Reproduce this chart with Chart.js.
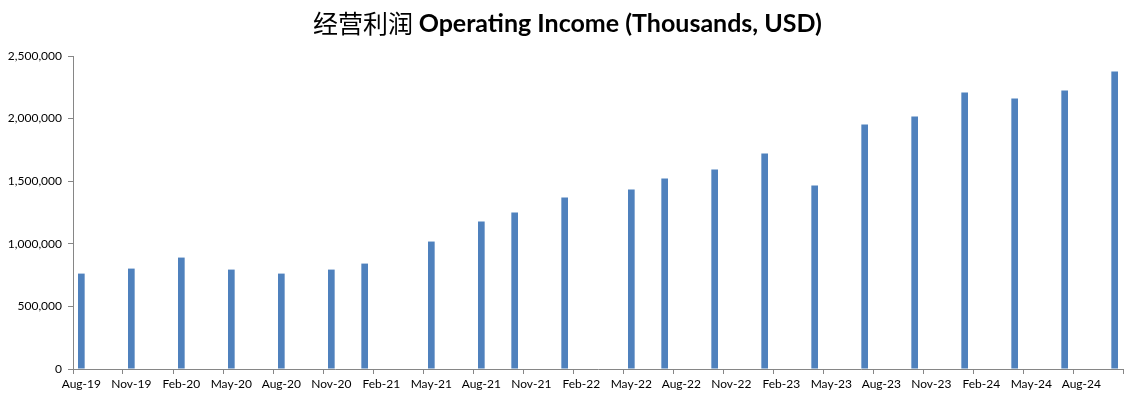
<!DOCTYPE html>
<html lang="zh">
<head>
<meta charset="UTF-8">
<title>经营利润 Operating Income</title>
<script src="https://cdn.jsdelivr.net/npm/chart.js"></script>
<style>
    html, body { margin: 0; padding: 0; background: #fff; }
    #wrap { width: 1135px; height: 399px; }
</style>
</head>
<body>
<div id="wrap"><canvas id="incomeChart"></canvas></div>
<script>
    // monthly axis from Aug-19 to Oct-24, labels every third month
    const monthNames = ['Jan','Feb','Mar','Apr','May','Jun','Jul','Aug','Sep','Oct','Nov','Dec'];
    const firstMonth = { year: 2019, month: 7 };   // Aug-19
    const lastMonth = { year: 2024, month: 9 };    // Oct-24

    // reporting months and operating income (thousands USD)
    const reportMonths = ['Aug-19','Nov-19','Feb-20','May-20','Aug-20','Nov-20','Jan-21',
        'May-21','Aug-21','Oct-21','Jan-22','May-22','Jul-22','Oct-22','Jan-23','Apr-23',
        'Jul-23','Oct-23','Jan-24','Apr-24','Jul-24','Oct-24'];
    const income = [762000, 802000, 890000, 794000, 762000, 794000, 842000,
        1018000, 1178000, 1250000, 1370000, 1434000, 1521000, 1593000, 1721000, 1465000,
        1953000, 2017000, 2209000, 2161000, 2225000, 2377000];

    const yTicksMax = 2500000;
    const yTickStep = 500000;

    const months = [];
    for (let y = firstMonth.year, m = firstMonth.month; y < lastMonth.year || (y === lastMonth.year && m <= lastMonth.month); ) {
        months.push(monthNames[m] + '-' + String(y).slice(2));
        m++;
        if (m > 11) { m = 0; y++; }
    }
    const incomeByMonth = months.map(function (mo) {
        const i = reportMonths.indexOf(mo);
        return i < 0 ? null : income[i];
    });

    const axisGrey = '#868686';

    const titlePlugin = {
        id: 'mixedTitle',
        afterDraw(chart) {
            const ctx = chart.ctx;
            const cn = '经营利润 ';
            const en = 'Operating Income (Thousands, USD)';
            ctx.save();
            ctx.textBaseline = 'middle';
            ctx.fillStyle = '#000';
            ctx.font = '25px "Noto Sans CJK SC"';
            const wCn = ctx.measureText(cn).width;
            ctx.font = 'bold 25px Lato';
            const wEn = ctx.measureText(en).width;
            let x = chart.width / 2 - (wCn + wEn) / 2;
            ctx.font = '25px "Noto Sans CJK SC"';
            ctx.fillText(cn, x, 23);
            ctx.font = 'bold 25px Lato';
            ctx.fillText(en, x + wCn, 24);
            ctx.restore();
        }
    };

    new Chart(document.getElementById('incomeChart'), {
        type: 'bar',
        data: {
            labels: months,
            datasets: [{
                label: 'Operating Income',
                data: incomeByMonth,
                backgroundColor: '#4F81BD',
                barPercentage: 0.4,
                categoryPercentage: 1.0
            }]
        },
        options: {
            responsive: true,
            maintainAspectRatio: false,
            animation: false,
            layout: { padding: { top: 56, left: 5, right: 12, bottom: 0 } },
            plugins: {
                legend: { display: false },
                tooltip: { enabled: false }
            },
            scales: {
                x: {
                    offset: true,
                    border: { color: axisGrey, width: 1 },
                    grid: {
                        offset: true,
                        drawOnChartArea: false,
                        tickLength: 5,
                        color: function (c) {
                            if (c.type !== 'tick') return axisGrey;
                            return c.index % 3 === 0 ? axisGrey : 'rgba(0,0,0,0)';
                        }
                    },
                    ticks: {
                        autoSkip: false,
                        maxRotation: 0,
                        minRotation: 0,
                        padding: 3,
                        color: '#000',
                        font: { family: 'Lato', size: 12 },
                        callback: function (v, i) { return i % 3 === 0 ? months[i] : ''; }
                    },
                    afterFit: function (s) { s.height = 30; }
                },
                y: {
                    min: 0,
                    max: yTicksMax,
                    border: { color: axisGrey, width: 1 },
                    grid: { drawOnChartArea: false, tickLength: 5, color: axisGrey },
                    ticks: {
                        stepSize: yTickStep,
                        padding: 6,
                        color: '#000',
                        font: { family: 'Lato', size: 12 },
                        callback: function (v) { return v.toLocaleString('en-US'); }
                    },
                    afterFit: function (s) { s.width = 68; }
                }
            }
        },
        plugins: [titlePlugin]
    });
</script>
</body>
</html>
